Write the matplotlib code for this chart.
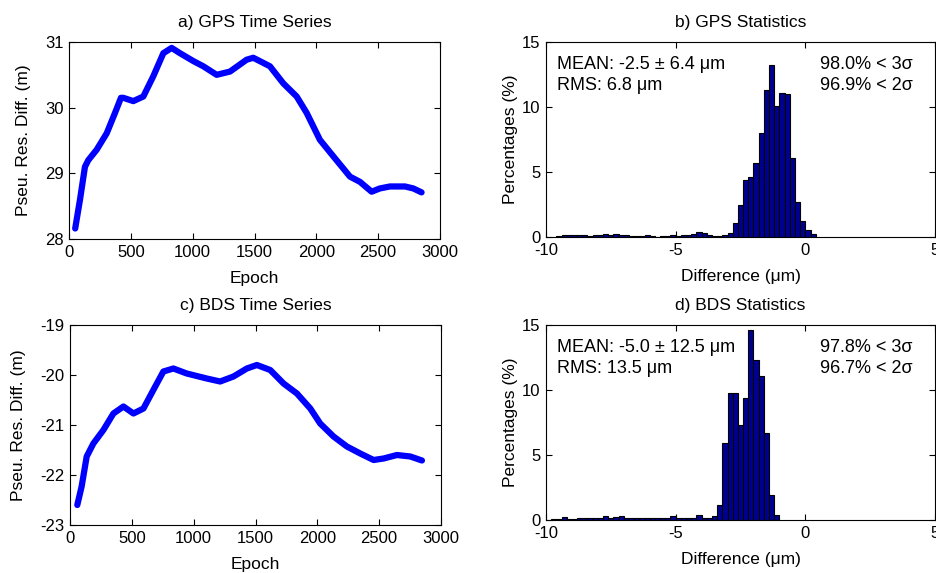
import numpy as np
import matplotlib
matplotlib.use("Agg")
import matplotlib.pyplot as plt

plt.rcParams["font.family"] = ["Liberation Sans", "DejaVu Sans"]
plt.rcParams["axes.unicode_minus"] = False

# time series (epoch, residual difference in m)
gps_epoch = [50, 89, 129, 156, 224, 305, 372, 420, 439, 520, 601, 682, 763, 830,
             897, 1005, 1086, 1194, 1302, 1436, 1490, 1625, 1733, 1841, 1922,
             2029, 2137, 2272, 2353, 2447, 2514, 2595, 2717, 2784, 2851]
gps_diff = [28.16, 28.6, 29.1, 29.2, 29.36, 29.61, 29.92, 30.15, 30.15, 30.1,
            30.17, 30.48, 30.83, 30.91, 30.83, 30.71, 30.63, 30.5, 30.55, 30.73,
            30.76, 30.63, 30.37, 30.17, 29.92, 29.51, 29.26, 28.95, 28.87, 28.72,
            28.77, 28.8, 28.8, 28.77, 28.71]

bds_epoch = [59, 94, 135, 189, 270, 351, 432, 513, 594, 674, 755, 836, 944, 1106,
             1214, 1322, 1430, 1511, 1619, 1727, 1835, 1943, 2023, 2131, 2239,
             2347, 2455, 2536, 2644, 2752, 2846]
bds_diff = [-22.6, -22.23, -21.63, -21.37, -21.1, -20.77, -20.63, -20.77, -20.67,
            -20.3, -19.93, -19.87, -19.97, -20.07, -20.13, -20.03, -19.87, -19.8,
            -19.9, -20.17, -20.37, -20.67, -20.97, -21.23, -21.43, -21.57, -21.7,
            -21.67, -21.6, -21.63, -21.71]

# histograms: percentage per 0.2 um bin
bin_width = 0.2
gps_first_edge = -9.6
gps_pct = [0.05, 0.15, 0.15, 0.15, 0.15, 0.15, 0.05, 0.12, 0.15, 0.25, 0.15,
           0.22, 0.15, 0.15, 0.1, 0.05, 0.05, 0.12, 0.05, 0.02, 0.1, 0.05, 0.15,
           0.1, 0.12, 0.12, 0.25, 0.38, 0.3, 0.15, 0.1, 0.1, 0.15, 0.33,
           1.05, 2.5, 4.4, 4.6, 5.7, 8.0, 11.3, 13.2, 10.1, 11.1, 11.0, 6.1, 2.7,
           1.25, 0.55, 0.2]
bds_first_edge = -9.8
bds_pct = [0.1, 0.1, 0.25, 0.1, 0.1, 0.15, 0.18, 0.18, 0.18, 0.18, 0.3, 0.18,
           0.2, 0.3, 0.15, 0.15, 0.12, 0.12, 0.12, 0.12, 0.12, 0.18, 0.18, 0.28,
           0.15, 0.15, 0.15, 0.15, 0.38, 0.18, 0.18, 0.3, 1.15, 5.95, 9.8, 9.8,
           7.3, 9.4, 14.6, 12.3, 11.1, 6.7, 1.9, 0.4]

gps_stats = ("MEAN: -2.5 \u00b1 6.4 \u03bcm\nRMS: 6.8 \u03bcm",
             "98.0% < 3\u03c3\n96.9% < 2\u03c3")
bds_stats = ("MEAN: -5.0 \u00b1 12.5 \u03bcm\nRMS: 13.5 \u03bcm",
             "97.8% < 3\u03c3\n96.7% < 2\u03c3")

W, H = 936, 573
fig = plt.figure(figsize=(W / 100, H / 100), dpi=100)


def px_axes(left, top, right, bottom):
    return fig.add_axes([left / W, 1 - bottom / H, (right - left) / W, (bottom - top) / H])


def style(ax):
    ax.tick_params(direction="in", top=True, right=True, length=4, width=0.8,
                   labelsize=12, pad=4)
    for s in ax.spines.values():
        s.set_linewidth(0.8)


def time_series(ax, epoch, diff, title, ylim):
    ax.plot(epoch, diff, color="#0000ff", lw=4.5, solid_capstyle="round",
            solid_joinstyle="round")
    ax.set_xlim(0, 3000)
    ax.set_xticks(np.arange(0, 3001, 500))
    ax.set_ylim(*ylim)
    ax.set_yticks(np.arange(ylim[0], ylim[1] + 1, 1))
    ax.set_title(title, fontsize=12.5, pad=10.5)
    ax.set_xlabel("Epoch", fontsize=12.5, labelpad=8)
    ax.set_ylabel("Pseu. Res. Diff. (m)", fontsize=12.5, labelpad=10)
    style(ax)


def histogram(ax, first_edge, pct, title, stats):
    edges = first_edge + bin_width * np.arange(len(pct))
    ax.bar(edges, pct, width=bin_width, align="edge", color="#000090",
           edgecolor="black", linewidth=0.8)
    ax.set_xlim(-10, 5)
    ax.set_xticks([-10, -5, 0, 5])
    ax.set_ylim(0, 15)
    ax.set_yticks([0, 5, 10, 15])
    ax.set_title(title, fontsize=12.5, pad=10.5)
    ax.set_xlabel("Difference (\u03bcm)", fontsize=12.5, labelpad=8)
    ax.set_ylabel("Percentages (%)", fontsize=12.5, labelpad=3)
    ax.text(0.028, 0.93, stats[0], transform=ax.transAxes, ha="left", va="top",
            fontsize=13, linespacing=1.3)
    ax.text(0.705, 0.93, stats[1], transform=ax.transAxes, ha="left", va="top",
            fontsize=13, linespacing=1.3)
    style(ax)


ax_a = px_axes(69, 42, 440, 239)
ax_b = px_axes(546, 42, 935, 237)
ax_c = px_axes(70, 325, 441, 525)
ax_d = px_axes(546, 325, 935, 520)

time_series(ax_a, gps_epoch, gps_diff, "a) GPS Time Series", (28, 31))
histogram(ax_b, gps_first_edge, gps_pct, "b) GPS Statistics", gps_stats)
time_series(ax_c, bds_epoch, bds_diff, "c) BDS Time Series", (-23, -19))
histogram(ax_d, bds_first_edge, bds_pct, "d) BDS Statistics", bds_stats)

fig.savefig("out.png", dpi=100)
